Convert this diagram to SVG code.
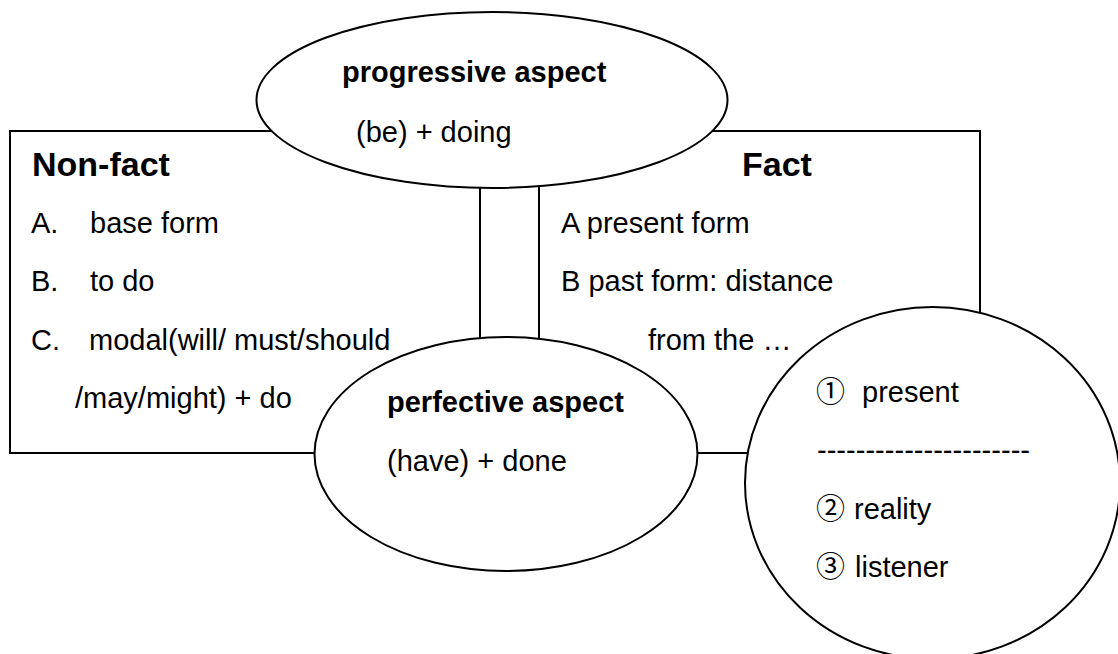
<svg xmlns="http://www.w3.org/2000/svg" width="1118" height="654" viewBox="0 0 1118 654">
<style>
.shape{fill:#fff;stroke:#000;stroke-width:2}
.t{font-family:"Liberation Sans",Arial,"Noto Sans CJK SC",sans-serif;font-size:29px;fill:#000}
.b{font-weight:bold}
.h{font-size:34px;font-weight:bold}
.c{font-family:"Noto Sans CJK SC","Liberation Sans",sans-serif}
.line{stroke:#000;stroke-width:2;fill:none}
</style>
<rect width="1118" height="654" fill="#fff"/>
<g id="nonfact">
<rect class="shape" x="10" y="131" width="470" height="322"/>
<text class="t h" x="32" y="176">Non-fact</text>
<text class="t" y="233"><tspan x="31">A.</tspan><tspan x="90">base form</tspan></text>
<text class="t" y="291"><tspan x="31">B.</tspan><tspan x="90">to do</tspan></text>
<text class="t" y="350"><tspan x="31">C.</tspan><tspan x="89">modal(will/ must/should</tspan></text>
<text class="t" x="75" y="408">/may/might) + do</text>
</g>
<g id="fact">
<rect class="shape" x="539" y="131" width="441" height="322"/>
<text class="t h" x="742" y="176">Fact</text>
<text class="t" x="561" y="233">A present form</text>
<text class="t" x="561" y="291">B past form: distance</text>
<text class="t" x="648" y="350">from the …</text>
</g>
<g id="progressive">
<ellipse class="shape" cx="492" cy="100" rx="235.5" ry="88"/>
<text class="t b" x="342" y="82">progressive aspect</text>
<text class="t" x="356" y="142">(be) + doing</text>
</g>
<g id="perfective">
<ellipse class="shape" cx="506" cy="454" rx="191.5" ry="117"/>
<text class="t b" x="387" y="412">perfective aspect</text>
<text class="t" x="387" y="471">(have) + done</text>
</g>
<g id="connectors">
<line class="line" x1="697" y1="453" x2="749" y2="453"/>
</g>
<g id="distance">
<ellipse class="shape" cx="932.5" cy="483" rx="187.5" ry="176"/>
<text class="t" y="402"><tspan class="c" x="816">①</tspan><tspan x="862">present</tspan></text>
<text class="t" x="817" y="460" textLength="213" lengthAdjust="spacing">----------------------</text>
<text class="t" y="519"><tspan class="c" x="816">②</tspan><tspan x="854">reality</tspan></text>
<text class="t" y="577"><tspan class="c" x="816">③</tspan><tspan x="855">listener</tspan></text>
</g>
</svg>
